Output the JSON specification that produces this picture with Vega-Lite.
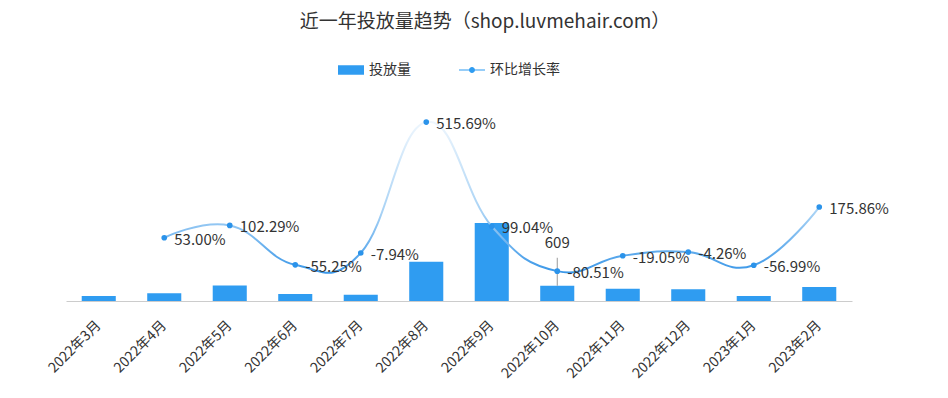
{
  "$schema": "https://vega.github.io/schema/vega-lite/v6.json",
  "width": 786,
  "height": 200,
  "autosize": {"type": "none"},
  "padding": {"left": 66, "top": 101, "right": 96, "bottom": 97},
  "background": "white",
  "config": {"font": "Noto Sans CJK SC", "view": {"stroke": null}},
  "title": {
    "text": "近一年投放量趋势（shop.luvmehair.com）",
    "fontSize": 19,
    "fontWeight": "normal",
    "color": "#333",
    "anchor": "middle",
    "frame": "group",
    "dx": 26,
    "offset": 25
  },
  "data": {
    "values": [
      {"月份": "2022年3月", "投放量": 200, "环比增长率": null, "标签": null},
      {"月份": "2022年4月", "投放量": 306, "环比增长率": 0.53, "标签": "53.00%"},
      {"月份": "2022年5月", "投放量": 619, "环比增长率": 1.0229, "标签": "102.29%"},
      {"月份": "2022年6月", "投放量": 277, "环比增长率": -0.5525, "标签": "-55.25%"},
      {"月份": "2022年7月", "投放量": 255, "环比增长率": -0.0794, "标签": "-7.94%"},
      {"月份": "2022年8月", "投放量": 1570, "环比增长率": 5.1569, "标签": "515.69%"},
      {"月份": "2022年9月", "投放量": 3125, "环比增长率": 0.9904, "标签": "99.04%"},
      {"月份": "2022年10月", "投放量": 609, "环比增长率": -0.8051, "标签": "-80.51%"},
      {"月份": "2022年11月", "投放量": 493, "环比增长率": -0.1905, "标签": "-19.05%"},
      {"月份": "2022年12月", "投放量": 472, "环比增长率": -0.0426, "标签": "-4.26%"},
      {"月份": "2023年1月", "投放量": 203, "环比增长率": -0.5699, "标签": "-56.99%"},
      {"月份": "2023年2月", "投放量": 560, "环比增长率": 1.7586, "标签": "175.86%"}
    ]
  },
  "encoding": {
    "x": {
      "field": "月份",
      "type": "ordinal",
      "sort": null,
      "scale": {"paddingInner": 0.48, "paddingOuter": 0.24},
      "axis": {
        "title": null,
        "labelAngle": -45,
        "labelAlign": "right",
        "labelBaseline": "middle",
        "labelFontSize": 14,
        "labelColor": "#333",
        "labelPadding": 22,
        "labelOverlap": false,
        "ticks": false,
        "grid": false,
        "domainColor": "#cccccc"
      }
    }
  },
  "layer": [
    {
      "layer": [
        {
          "mark": {"type": "bar"},
          "encoding": {
            "y": {"field": "投放量", "type": "quantitative", "scale": {"domain": [0, 8000]}, "axis": null},
            "color": {
              "datum": "投放量",
              "type": "nominal",
              "scale": {"domain": ["投放量", "环比增长率"], "range": ["#2f9cf1", "#2f9cf1"]},
              "legend": {
                "title": null,
                "orient": "none",
                "direction": "horizontal",
                "legendX": 272,
                "legendY": -44,
                "symbolSize": 676,
                "labelFontSize": 14,
                "labelColor": "#333",
                "labelOffset": 5,
                "columnPadding": 48,
                "encode": {
                  "symbols": {
                    "update": {
                      "shape": {"signal": "datum.value === '投放量' ? 'M-1,-0.365H1V0.365H-1Z' : 'M-1,-0.045H1V0.045H-1Z M0.23,0A0.23,0.23,0,1,1,-0.23,0A0.23,0.23,0,1,1,0.23,0Z'"},
                      "fill": {"value": "#2f9cf1"},
                      "strokeWidth": {"value": 0},
                      "opacity": {"value": 1}
                    }
                  }
                }
              }
            }
          }
        },
        {
          "transform": [{"filter": "datum['月份'] === '2022年10月'"}],
          "mark": {"type": "rule", "color": "#999999", "strokeWidth": 1, "y2Offset": -28},
          "encoding": {
            "y": {"field": "投放量", "type": "quantitative", "scale": {"domain": [0, 8000]}, "axis": null},
            "y2": {"field": "投放量"}
          }
        },
        {
          "transform": [{"filter": "datum['月份'] === '2022年10月'"}],
          "mark": {"type": "text", "dy": -43, "baseline": "middle", "align": "center", "fontSize": 15, "color": "#333"},
          "encoding": {
            "y": {"field": "投放量", "type": "quantitative", "scale": {"domain": [0, 8000]}, "axis": null},
            "text": {"field": "投放量", "type": "quantitative"}
          }
        }
      ]
    },
    {
      "layer": [
        {
          "mark": {
            "type": "line",
            "interpolate": "cardinal",
            "tension": -0.3,
            "strokeWidth": 2,
            "color": {
              "gradient": "linear",
              "x1": 0, "y1": 0, "x2": 0, "y2": 1,
              "stops": [
                {"offset": 0, "color": "#eef6fd"},
                {"offset": 0.6, "color": "#a8d2f5"},
                {"offset": 1, "color": "#3a97e8"}
              ]
            }
          },
          "encoding": {
            "y": {"field": "环比增长率", "type": "quantitative", "scale": {"domain": [-2, 6]}, "axis": null}
          }
        },
        {
          "mark": {"type": "point", "filled": true, "size": 32, "color": "#2b93ea", "opacity": 1},
          "encoding": {
            "y": {"field": "环比增长率", "type": "quantitative", "scale": {"domain": [-2, 6]}, "axis": null}
          }
        },
        {
          "mark": {"type": "text", "align": "left", "baseline": "middle", "dx": 10, "dy": 2, "fontSize": 15, "color": "#333"},
          "encoding": {
            "y": {"field": "环比增长率", "type": "quantitative", "scale": {"domain": [-2, 6]}, "axis": null},
            "text": {"field": "标签", "type": "nominal"}
          }
        }
      ]
    }
  ],
  "resolve": {"scale": {"y": "independent"}}
}
